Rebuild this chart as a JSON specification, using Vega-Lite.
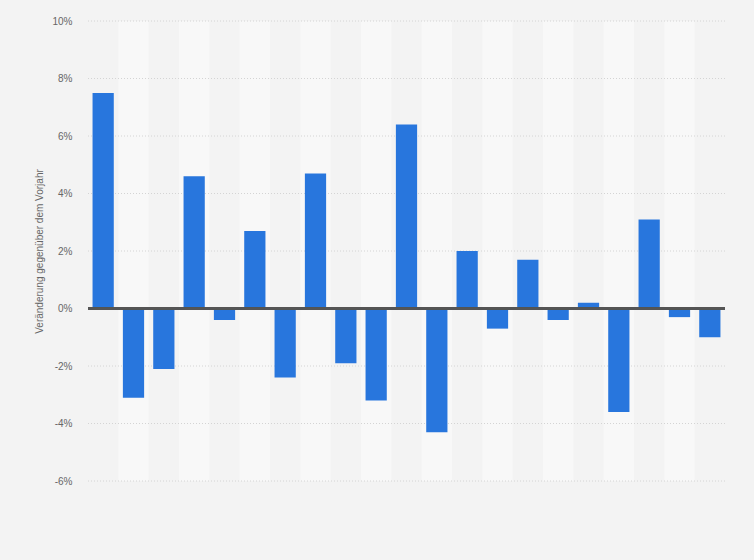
{
  "$schema": "https://vega.github.io/schema/vega-lite/v6.json",
  "autosize": "none",
  "width": 637,
  "height": 460,
  "padding": {"left": 88, "top": 21, "right": 29, "bottom": 79},
  "background": "#f3f3f3",
  "config": {
    "view": {"stroke": null},
    "font": "Arial, Liberation Sans, sans-serif"
  },
  "datasets": {
    "raster": [
      {"v": -6}, {"v": -4}, {"v": -2}, {"v": 2}, {"v": 4}, {"v": 6}, {"v": 8}, {"v": 10}
    ]
  },
  "data": {
    "values": [
      {"jahr": "2000", "wert": 7.5},
      {"jahr": "2001", "wert": -3.1},
      {"jahr": "2002", "wert": -2.1},
      {"jahr": "2003", "wert": 4.6},
      {"jahr": "2004", "wert": -0.4},
      {"jahr": "2005", "wert": 2.7},
      {"jahr": "2006", "wert": -2.4},
      {"jahr": "2007", "wert": 4.7},
      {"jahr": "2008", "wert": -1.9},
      {"jahr": "2009", "wert": -3.2},
      {"jahr": "2010", "wert": 6.4},
      {"jahr": "2011", "wert": -4.3},
      {"jahr": "2012", "wert": 2.0},
      {"jahr": "2013", "wert": -0.7},
      {"jahr": "2014", "wert": 1.7},
      {"jahr": "2015", "wert": -0.4},
      {"jahr": "2016", "wert": 0.2},
      {"jahr": "2017", "wert": -3.6},
      {"jahr": "2018", "wert": 3.1},
      {"jahr": "2019", "wert": -0.3},
      {"jahr": "2020", "wert": -1.0}
    ]
  },
  "layer": [
    {
      "transform": [
        {"window": [{"op": "row_number", "as": "rn"}]},
        {"filter": "datum.rn % 2 == 0"}
      ],
      "mark": {"type": "bar", "color": "#f8f8f8", "width": {"band": 1}},
      "encoding": {
        "x": {"field": "jahr", "type": "nominal"},
        "y": {"datum": 10, "type": "quantitative"},
        "y2": {"datum": -6}
      }
    },
    {
      "data": {"name": "raster"},
      "mark": {"type": "rule", "color": "#d4d4d4", "strokeDash": [1, 2], "strokeWidth": 1},
      "encoding": {
        "y": {"field": "v", "type": "quantitative"}
      }
    },
    {
      "mark": {"type": "bar", "color": "#2876dd", "width": {"band": 0.7}},
      "encoding": {
        "x": {
          "field": "jahr",
          "type": "nominal",
          "sort": null,
          "scale": {"paddingInner": 0, "paddingOuter": 0},
          "axis": {"labels": false, "ticks": false, "domain": false, "title": null, "grid": false}
        },
        "y": {
          "field": "wert",
          "type": "quantitative",
          "scale": {"domain": [-6, 10], "nice": false},
          "axis": {
            "values": [-6, -4, -2, 0, 2, 4, 6, 8, 10],
            "labelExpr": "datum.value + '%'",
            "labelColor": "#666666",
            "labelFontSize": 10,
            "labelPadding": 16,
            "ticks": false,
            "domain": false,
            "grid": false,
            "title": "Veränderung gegenüber dem Vorjahr",
            "titleColor": "#666666",
            "titleFontSize": 10,
            "titleFontWeight": "normal",
            "titlePadding": 7
          }
        }
      }
    },
    {
      "mark": {"type": "rule", "color": "#555555", "strokeWidth": 1.5},
      "encoding": {
        "y": {"datum": 0, "type": "quantitative"}
      }
    }
  ]
}
